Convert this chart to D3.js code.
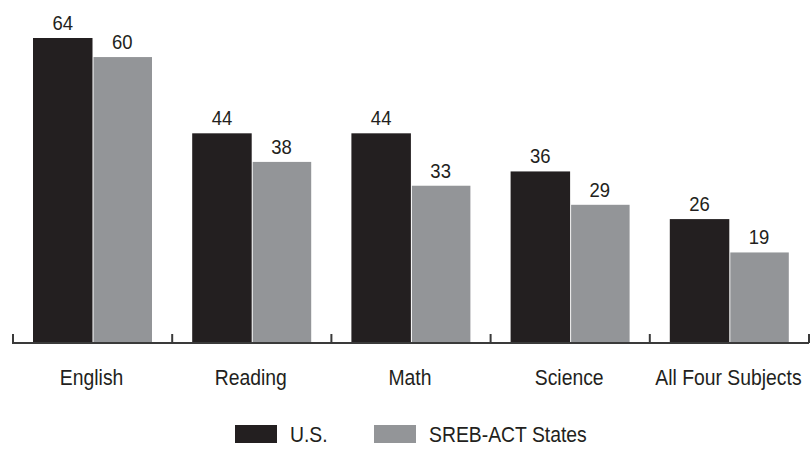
<!DOCTYPE html>
<html>
<head>
<meta charset="utf-8">
<script src="https://cdn.jsdelivr.net/npm/d3@7"></script>
<style>
    body { margin: 0; background: #fff; }
    svg text { font-family: "Liberation Sans", Arial, sans-serif; fill: #231f20; }
</style>
</head>
<body>
<div class="chart"></div>
<script>
const subjects = ["English", "Reading", "Math", "Science", "All Four Subjects"];
const usValues = [64, 44, 44, 36, 26];
const srebValues = [60, 38, 33, 29, 19];
const seriesNames = ["U.S.", "SREB-ACT States"];
const seriesColors = ["#231f20", "#939598"];

const width = 812;
const height = 452;
const baseY = 343;
// the original font is a condensed one, so squeeze the text a bit
const squeeze = 0.88;

const svg = d3.select(".chart")
    .append("svg")
    .attr("width", width)
    .attr("height", height);

const scale_x = d3.scaleBand()
    .domain(subjects)
    .range([12, 808]);

const scale_inner = d3.scaleBand()
    .domain(seriesNames)
    .range([21, 21 + 119]);

const scale_y = d3.scaleLinear()
    .domain([0, 64])
    .range([baseY, 38]);

const rows = subjects.map((s, i) => ({
    subject: s,
    values: [
        { name: seriesNames[0], value: usValues[i], color: seriesColors[0] },
        { name: seriesNames[1], value: srebValues[i], color: seriesColors[1] }
    ]
}));

const groups = svg.append("g")
    .selectAll("g")
    .data(rows)
    .join("g")
    .attr("transform", d => `translate(${scale_x(d.subject)},0)`);

groups.selectAll("rect")
    .data(d => d.values)
    .join("rect")
    .attr("x", d => scale_inner(d.name) + (d.name === seriesNames[1] ? 1 : 0))
    .attr("y", d => scale_y(d.value))
    .attr("width", d => scale_inner.bandwidth() - (d.name === seriesNames[1] ? 1 : 0))
    .attr("height", d => baseY - scale_y(d.value))
    .attr("fill", d => d.color);

groups.selectAll(".val")
    .data(d => d.values)
    .join("text")
    .attr("class", "val")
    .attr("transform", d => `translate(${scale_inner(d.name) + scale_inner.bandwidth() / 2},${scale_y(d.value) - 8}) scale(${squeeze},1)`)
    .attr("text-anchor", "middle")
    .attr("font-size", 21)
    .text(d => d.value);

// baseline and the upward ticks between groups
svg.append("line")
    .attr("x1", 12)
    .attr("x2", 809)
    .attr("y1", baseY)
    .attr("y2", baseY)
    .attr("stroke", "#3a3a3a")
    .attr("stroke-width", 2);

const boundaries = subjects.map(s => scale_x(s)).concat([scale_x.range()[1]]);
svg.append("g")
    .selectAll("line")
    .data(boundaries)
    .join("line")
    .attr("x1", d => d + 1)
    .attr("x2", d => d + 1)
    .attr("y1", baseY - 9)
    .attr("y2", baseY)
    .attr("stroke", "#3a3a3a")
    .attr("stroke-width", 2);

svg.append("g")
    .selectAll("text")
    .data(subjects)
    .join("text")
    .attr("transform", d => `translate(${scale_x(d) + scale_x.bandwidth() / 2},385) scale(${squeeze},1)`)
    .attr("text-anchor", "middle")
    .attr("font-size", 22)
    .text(d => d);

// legend
const legendX = [235, 374];
const legend = svg.append("g")
    .selectAll("g")
    .data(seriesNames)
    .join("g")
    .attr("transform", (d, i) => `translate(${legendX[i]},425)`);

legend.append("rect")
    .attr("width", 42)
    .attr("height", 18)
    .attr("fill", (d, i) => seriesColors[i]);

legend.append("text")
    .attr("transform", `translate(55,17) scale(${squeeze},1)`)
    .attr("font-size", 22)
    .text(d => d);
</script>
</body>
</html>
